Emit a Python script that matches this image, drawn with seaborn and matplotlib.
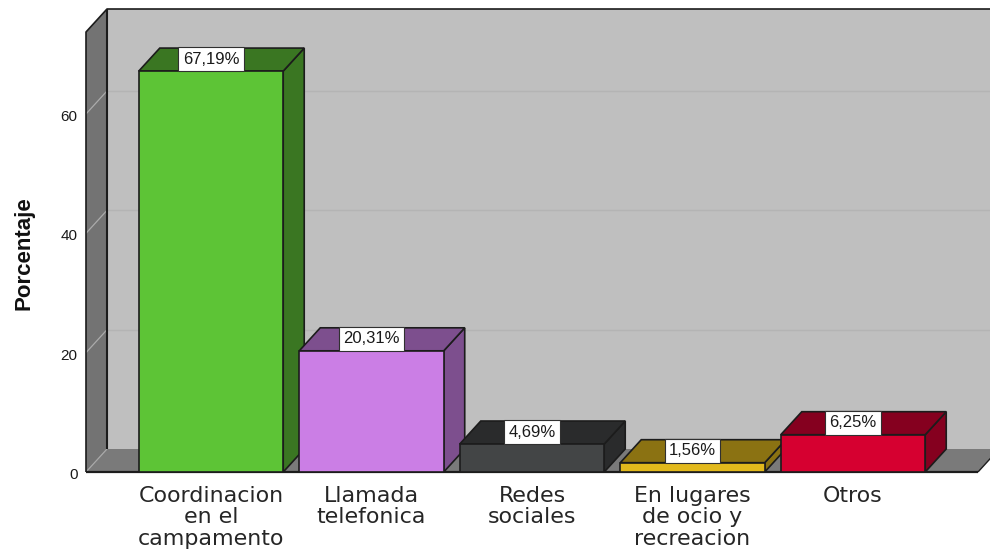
import matplotlib
matplotlib.use("Agg")
import matplotlib.pyplot as plt
from matplotlib.patches import Polygon
from matplotlib.transforms import ScaledTranslation
import seaborn as sns
import pandas as pd

categories = ["Coordinacion\nen el\ncampamento", "Llamada\ntelefonica", "Redes\nsociales",
              "En lugares\nde ocio y\nrecreacion", "Otros"]
values = [67.19, 20.31, 4.69, 1.56, 6.25]
front_colors = ["#5DC436", "#CB7EE5", "#434546", "#E2B91C", "#D60030"]
side_colors = ["#3A7622", "#7D4F8E", "#2A2B2C", "#8B7212", "#85001F"]
y_ticks = [0, 20, 40, 60]
y_label = "Porcentaje"

W, H = 990, 550
LEFT, RIGHT, TOP, BOTTOM = 86, 978, 32, 472
PITCH = 160.5
PX_PER_UNIT = 5.967
DX = 21 / PITCH
DY = 23 / PX_PER_UNIT
EDGE = "#1c1c1c"

sns.set_theme(style="white")
plt.rcParams["font.family"] = ["Liberation Sans", "DejaVu Sans"]

fig = plt.figure(figsize=(W / 100, H / 100), dpi=100, facecolor="white")
ax = fig.add_axes([LEFT / W, 1 - BOTTOM / H, (RIGHT - LEFT) / W, (BOTTOM - TOP) / H])
df = pd.DataFrame({"cat": categories, "val": values})
sns.barplot(data=df, x="cat", y="val", hue="cat", palette=front_colors, order=categories,
            hue_order=categories, width=0.9, saturation=1, edgecolor=EDGE, linewidth=1.2,
            legend=False, ax=ax)

half = (RIGHT - LEFT) / PITCH / 2
xc = (len(categories) - 1) / 2
x0, x1 = xc - half, xc + half
y1 = (BOTTOM - TOP) / PX_PER_UNIT
ax.set_xlim(x0, x1)
ax.set_ylim(0, y1)
ax.patch.set_visible(False)
sns.despine(ax=ax, left=True, bottom=True, top=True, right=True)


def poly(pts, fc, ec="none", lw=0, z=1):
    ax.add_patch(Polygon(pts, closed=True, facecolor=fc, edgecolor=ec, linewidth=lw,
                         zorder=z, clip_on=False, joinstyle="miter"))


def line(xs, ys, color, lw, z):
    ax.plot(xs, ys, color=color, lw=lw, zorder=z, clip_on=False, solid_capstyle="butt")


# walls and floor
poly([(x0 + DX, DY), (x1 + DX, DY), (x1 + DX, y1 + DY), (x0 + DX, y1 + DY)], "#BFBFBF", z=0.5)
poly([(x0, 0), (x1, 0), (x1 + DX, DY), (x0 + DX, DY)], "#7A7A7A", z=0.6)
poly([(x0, 0), (x0 + DX, DY), (x0 + DX, y1 + DY), (x0, y1)], "#737373", z=0.7)
for t in y_ticks[1:]:
    line([x0 + DX, x1 + DX], [t + DY, t + DY], "#B4B4B4", 1.0, 0.8)
    line([x0, x0 + DX], [t, t + DY], "#ABABAB", 0.9, 0.8)
line([x0, x0 + DX], [0, DY], "#A8A8A8", 0.9, 0.8)
line([x0, x0, x0 + DX, x1 + DX], [0, y1, y1 + DY, y1 + DY], EDGE, 1.2, 0.9)
line([x0 + DX, x0 + DX], [DY, y1 + DY], EDGE, 1.5, 0.9)
line([x1, x1 + DX], [0, DY], EDGE, 1.0, 0.9)
line([x0, x1], [0, 0], EDGE, 1.6, 0.95)

# bars: side and top from each bar rectangle, then label
for i, bar in enumerate(ax.patches[:len(values)]):
    a, b, v = bar.get_x(), bar.get_x() + bar.get_width(), bar.get_height()
    z = 2 + 2 * i
    bar.set_zorder(z + 1)
    poly([(b, 0), (b + DX, DY), (b + DX, v + DY), (b, v)], side_colors[i], EDGE, 1.2, z)
    poly([(a, v), (b, v), (b + DX, v + DY), (a + DX, v + DY)], side_colors[i], EDGE, 1.2, z)
    ax.annotate(f"{values[i]:.2f}".replace(".", ",") + "%", xy=((a + b) / 2, v), xytext=(0, 3.2),
                textcoords="offset points", ha="center", va="bottom", fontsize=12, color="#1a1a1a",
                zorder=30, clip_on=False,
                bbox=dict(boxstyle="square,pad=0.26", facecolor="white", edgecolor="#303030", linewidth=0.8))

ax.set_xlabel("")
ax.set_ylabel("")
ax.set_yticks(y_ticks)
ax.tick_params(axis="y", length=0, pad=6, labelsize=11, labelcolor="#1a1a1a")
shift = ScaledTranslation(0, -1.5 / 100, fig.dpi_scale_trans)
for lab in ax.get_yticklabels():
    lab.set_family(["Liberation Sans"])
    lab.set_transform(lab.get_transform() + shift)
ax.set_xticks(range(len(categories)))
ax.set_xticklabels(categories, fontsize=15.9, family=["DejaVu Sans"], linespacing=1.1, color="#262626")
ax.tick_params(axis="x", length=0, pad=9.8)
fig.text(24 / W, 1 - 253 / H, y_label, rotation=90, ha="center", va="center",
         fontsize=16, fontweight="bold", color="#111111")

fig.savefig("out.png", dpi=100, facecolor="white")
